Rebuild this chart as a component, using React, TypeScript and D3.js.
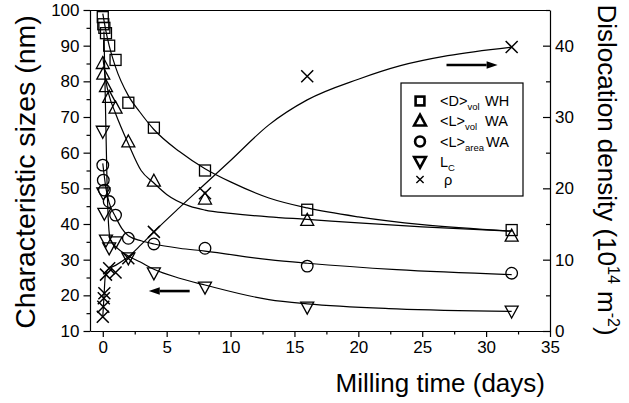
import React, { useRef, useEffect } from "react";
import * as d3 from "d3";

type Pt = [number, number];

// measured points, milling time in days
const timeD = [0, 0.04, 0.125, 0.25, 0.5, 1, 2, 4, 8, 16, 32];
const sizeD = [98, 96, 95, 93.5, 90, 86, 74, 67, 55, 44, 38.3];
const timeLvol = [0, 0.04, 0.25, 0.5, 1, 2, 4, 8, 16, 32];
const sizeLvol = [85, 82, 78.5, 75.5, 72.5, 63, 52, 47, 41, 36.6];
const timeLarea = [0, 0.04, 0.125, 0.5, 1, 2, 4, 8, 16, 32];
const sizeLarea = [56.5, 52.3, 49.5, 46.3, 42.5, 36, 34.4, 33.2, 28.2, 26.2];
const timeLc = [0, 0.04, 0.125, 0.25, 0.5, 1, 2, 4, 8, 16, 32];
const sizeLc = [66, 48.7, 43, 35.5, 33.3, 35, 30.5, 26.3, 22.3, 16.7, 15.6];
const timeRho = [0, 0.04, 0.08, 0.125, 0.25, 0.5, 1, 2, 4, 8, 16, 32];
const rho = [2, 3.4, 4.6, 5.3, 7.9, 8.8, 8.2, 10.2, 13.9, 19.3, 35.7, 39.8];

// fitted curves
const fitD: Pt[] = [[0, 99], [0.25, 94], [0.5, 90], [1, 84], [2, 76], [2.9, 71.4], [4, 66.5], [6, 60.3], [8, 55.5], [10, 51.8], [13, 47.3], [16, 44.5], [20, 42], [25, 39.8], [32, 38]];
const fitLvol: Pt[] = [[0, 87], [0.25, 80], [0.5, 76], [1, 71], [2, 62.5], [3, 55], [4, 51.5], [5, 48.3], [6.8, 45], [8, 43.9], [10, 43], [13, 42], [16, 41.3], [20, 40.3], [25, 39.2], [32, 38]];
const fitLarea: Pt[] = [[0, 57], [0.25, 50], [0.5, 46], [1, 42], [1.5, 38.7], [2, 36.7], [3, 35.3], [4, 34.4], [6, 33.2], [8, 32.4], [13, 30], [16, 29], [23, 27.2], [32, 25.8]];
const fitLc: Pt[] = [[0.09, 94], [0.2, 75], [0.33, 52], [0.45, 40], [0.6, 35.5], [1, 33.7], [2, 31], [2.9, 29.4], [4, 27.3], [6, 24.8], [8, 22.9], [13, 18.8], [16, 17.6], [23, 16.2], [32, 15.5]];
const fitRho: Pt[] = [[0, 2], [0.1, 5], [0.2, 7.8], [0.4, 8.6], [1, 9.2], [2, 10.4], [3, 12.1], [4, 13.9], [6, 17.3], [8, 20.6], [10, 23.9], [13, 28.9], [16, 32.4], [20, 35.3], [23.3, 37.2], [27, 38.6], [32, 39.8]];

// axes
const timeTicks = [0, 5, 10, 15, 20, 25, 30, 35];
const timeMinor = [2.5, 7.5, 12.5, 17.5, 22.5, 27.5, 32.5];
const sizeTicks = [10, 20, 30, 40, 50, 60, 70, 80, 90, 100];
const sizeMinor = [15, 25, 35, 45, 55, 65, 75, 85, 95];
const rhoTicks = [0, 10, 20, 30, 40];
const rhoMinor = [5, 15, 25, 35, 45];

// arrows pointing to the axis each family belongs to
const arrowLeft: Pt[] = [[6.8, 21.2], [3.6, 21.2]];
const arrowRight: Pt[] = [[26.9, 37.3], [30.9, 37.3]];

const font = "'Liberation Sans', Arial, Helvetica, sans-serif";
const W = 629, H = 403;
const margin = { top: 10, right: 79, bottom: 72, left: 90 };

const x = d3.scaleLinear().domain([-1, 35]).range([margin.left, W - margin.right]);
const yL = d3.scaleLinear().domain([10, 100]).range([H - margin.bottom, margin.top]);
const yR = d3.scaleLinear().domain([0, 45]).range([H - margin.bottom, margin.top]);

const lineL = d3.line<Pt>().x(d => x(d[0])).y(d => yL(d[1])).curve(d3.curveMonotoneX);
const lineR = d3.line<Pt>().x(d => x(d[0])).y(d => yR(d[1])).curve(d3.curveMonotoneX);

function Marker({ kind, cx, cy, sw = 1.3, s = 1 }: { kind: string; cx: number; cy: number; sw?: number; s?: number }) {
    const common = { fill: "none", stroke: "#000", strokeWidth: sw };
    if (kind === "square") return <rect x={cx - 5.5 * s} y={cy - 5.5 * s} width={11 * s} height={11 * s} {...common} />;
    if (kind === "circle") return <circle cx={cx} cy={cy} r={5.8 * s} {...common} />;
    if (kind === "up") return <path d={`M${cx},${cy - 7 * s}L${cx + 6.5 * s},${cy + 5 * s}L${cx - 6.5 * s},${cy + 5 * s}Z`} {...common} />;
    if (kind === "down") return <path d={`M${cx},${cy + 7 * s}L${cx + 6.5 * s},${cy - 5 * s}L${cx - 6.5 * s},${cy - 5 * s}Z`} {...common} />;
    return <path d={`M${cx - 6 * s},${cy - 6 * s}L${cx + 6 * s},${cy + 6 * s}M${cx - 6 * s},${cy + 6 * s}L${cx + 6 * s},${cy - 6 * s}`} {...common} />;
}

function Arrow({ pts, scaleY }: { pts: Pt[]; scaleY: d3.ScaleLinear<number, number> }) {
    const x0 = x(pts[0][0]), x1 = x(pts[1][0]), y0 = scaleY(pts[0][1]);
    const dir = Math.sign(x1 - x0);
    const back = x1 - dir * 11;
    return (
        <g>
            <line x1={x0} y1={y0} x2={back} y2={y0} stroke="#000" strokeWidth={2.6} />
            <path d={`M${x1},${y0}L${back},${y0 - 3.8}L${back},${y0 + 3.8}Z`} fill="#000" />
        </g>
    );
}

export default function App() {
    const axLeft = useRef<SVGGElement>(null);
    const axBottom = useRef<SVGGElement>(null);
    const axRight = useRef<SVGGElement>(null);

    useEffect(() => {
        const style = (g: any) => {
            g.attr("font-size", 17).attr("font-family", font);
            g.selectAll("text").attr("fill", "#000");
            g.selectAll("line, path").attr("stroke", "#000").attr("stroke-width", 1.2);
        };

        const gl = d3.select(axLeft.current);
        gl.selectAll("*").remove();
        gl.append("g").call(d3.axisLeft(yL).tickValues(sizeMinor).tickSize(3.5).tickFormat(() => ""))
            .call(g => g.select(".domain").remove()).call(style);
        gl.append("g").call(d3.axisLeft(yL).tickValues(sizeTicks).tickSize(6.5).tickSizeOuter(0).tickPadding(4)).call(style);

        const gb = d3.select(axBottom.current);
        gb.selectAll("*").remove();
        gb.append("g").call(d3.axisBottom(x).tickValues(timeMinor).tickSize(3.5).tickFormat(() => ""))
            .call(g => g.select(".domain").remove()).call(style);
        gb.append("g").call(d3.axisBottom(x).tickValues(timeTicks).tickSize(6).tickSizeOuter(0).tickPadding(4)).call(style);

        const gr = d3.select(axRight.current);
        gr.selectAll("*").remove();
        gr.append("g").call(d3.axisRight(yR).tickValues(rhoMinor).tickSize(-4).tickFormat(() => ""))
            .call(g => g.select(".domain").remove()).call(style);
        gr.append("g").call(d3.axisRight(yR).tickValues(rhoTicks).tickSize(-7).tickSizeOuter(0).tickPadding(5)).call(style);
    }, []);

    const series = [
        { kind: "square", t: timeD, v: sizeD },
        { kind: "up", t: timeLvol, v: sizeLvol },
        { kind: "circle", t: timeLarea, v: sizeLarea },
        { kind: "down", t: timeLc, v: sizeLc },
    ];

    const lx = 420, tx = 440, sx = 485;
    const rows = [101, 121, 141.5, 161.5, 179.5];

    return (
        <svg width={W} height={H} style={{ position: "absolute", left: 0, top: 0, background: "#fff" }} fontFamily={font}>
            <line x1={x(-1)} x2={x(35)} y1={margin.top + 0.5} y2={margin.top + 0.5} stroke="#000" strokeWidth={1.2} />
            <g ref={axLeft} transform={`translate(${margin.left},0)`} />
            <g ref={axBottom} transform={`translate(0,${H - margin.bottom})`} />
            <g ref={axRight} transform={`translate(${W - margin.right},0)`} />

            {[fitD, fitLvol, fitLarea, fitLc].map((f, i) => (
                <path key={i} d={lineL(f) || ""} fill="none" stroke="#000" strokeWidth={1.2} />
            ))}
            <path d={lineR(fitRho) || ""} fill="none" stroke="#000" strokeWidth={1.2} />

            {series.map(s => s.t.map((t, i) => (
                <Marker key={s.kind + i} kind={s.kind} cx={x(t)} cy={yL(s.v[i])} />
            )))}
            {timeRho.map((t, i) => <Marker key={"x" + i} kind="x" cx={x(t)} cy={yR(rho[i])} sw={1.5} />)}

            <Arrow pts={arrowLeft} scaleY={yL} />
            <Arrow pts={arrowRight} scaleY={yR} />

            <rect x={401} y={83} width={122} height={113} fill="#fff" stroke="#000" strokeWidth={1.2} />
            <Marker kind="square" cx={lx} cy={rows[0]} sw={2.6} s={0.8} />
            <Marker kind="up" cx={lx} cy={rows[1]} sw={2.6} s={0.9} />
            <Marker kind="circle" cx={lx} cy={rows[2]} sw={2.6} s={0.85} />
            <Marker kind="down" cx={lx} cy={rows[3]} sw={2.6} s={0.9} />
            <Marker kind="x" cx={lx} cy={rows[4]} sw={1.4} s={0.6} />
            <g fontSize={14.5} fill="#000">
                <text x={tx} y={rows[0] + 5}>{"<D>"}<tspan fontSize={9.5} dy={4}>vol</tspan><tspan x={sx} dy={-4}>WH</tspan></text>
                <text x={tx} y={rows[1] + 5}>{"<L>"}<tspan fontSize={9.5} dy={4}>vol</tspan><tspan x={sx} dy={-4}>WA</tspan></text>
                <text x={tx} y={rows[2] + 5}>{"<L>"}<tspan fontSize={9.5} dy={4}>area</tspan><tspan x={sx + 1} dy={-4}>WA</tspan></text>
                <text x={tx} y={rows[3] + 5}>L<tspan fontSize={9.5} dy={4}>C</tspan></text>
                <text x={tx + 4} y={rows[4] + 5}>ρ</text>
            </g>

            <text transform={`translate(35,172) rotate(-90)`} textAnchor="middle" fontSize={28.5} fill="#000">Characteristic sizes (nm)</text>
            <text transform={`translate(598,170) rotate(90)`} textAnchor="middle" fontSize={26} fill="#000">
                Dislocation density (10<tspan fontSize={16} dy={-10}>14</tspan><tspan dy={10}>{" m"}</tspan><tspan fontSize={16} dy={-10}>-2</tspan><tspan dy={10}>)</tspan>
            </text>
            <text x={545} y={392} textAnchor="end" fontSize={26} fill="#000">Milling time (days)</text>
        </svg>
    );
}
